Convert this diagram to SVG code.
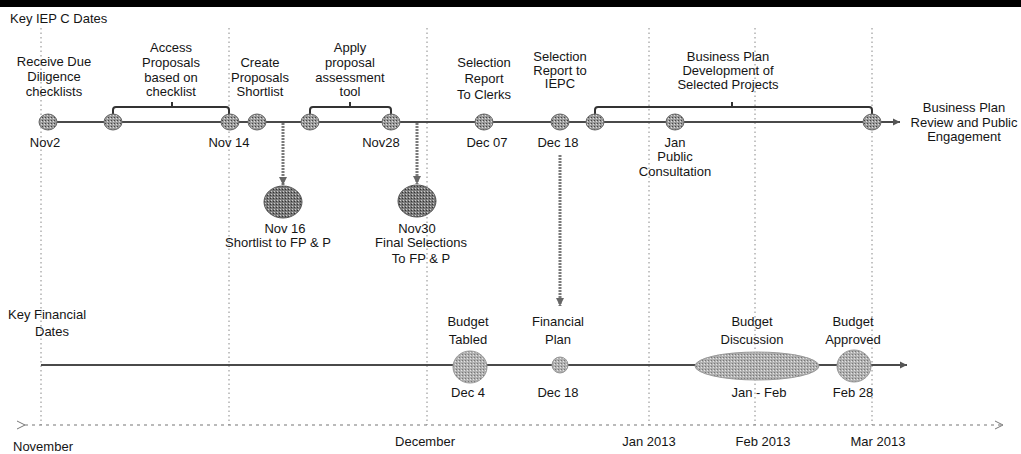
<svg xmlns="http://www.w3.org/2000/svg" width="1021" height="454" viewBox="0 0 1021 454">
<style>
text{font-family:"Liberation Sans",Arial,sans-serif;font-size:13px;fill:#151515}
.c{text-anchor:middle}
.vd{stroke:#888;stroke-width:1;stroke-dasharray:1.5 3;fill:none}
.tl{stroke:#4a4a4a;stroke-width:2;fill:none}
.br{stroke:#333;stroke-width:2;fill:none}
.va{stroke:#7a7a7a;stroke-width:3;fill:none;stroke-dasharray:2 1}
.ms{fill:url(#dots);stroke:#6a6a6a;stroke-width:1}
.big{fill:url(#dotsDark);stroke:#555;stroke-width:1}
.fin{fill:url(#dotsLight);stroke:#999;stroke-width:1}
.ax{stroke:#777;stroke-width:1.2;stroke-dasharray:3 4;fill:none}
</style>
<defs>
<pattern id="dots" width="3" height="3" patternUnits="userSpaceOnUse"><rect width="3" height="3" fill="#9a9a9a"/><rect width="1" height="1" fill="#444"/><rect x="2" y="1" width="1" height="1" fill="#ddd"/></pattern>
<pattern id="dotsDark" width="3" height="3" patternUnits="userSpaceOnUse"><rect width="3" height="3" fill="#7a7a7a"/><rect width="1" height="1" fill="#333"/><rect x="1" y="2" width="1" height="1" fill="#ccc"/></pattern>
<pattern id="dotsLight" width="3" height="3" patternUnits="userSpaceOnUse"><rect width="3" height="3" fill="#b0b0b0"/><rect width="1" height="1" fill="#777"/><rect x="2" y="1" width="1" height="1" fill="#e4e4e4"/></pattern>
<marker id="ah" markerWidth="8" markerHeight="8" refX="7" refY="4" orient="auto" markerUnits="userSpaceOnUse"><path d="M0,0.5 L7,4 L0,7.5 z" fill="#555"/></marker>
<marker id="ahv" markerWidth="10" markerHeight="10" refX="8" refY="5" orient="auto" markerUnits="userSpaceOnUse"><path d="M0,1 L8,5 L0,9 z" fill="#666"/></marker>
<marker id="open" markerWidth="10" markerHeight="10" refX="8" refY="5" orient="auto" markerUnits="userSpaceOnUse"><path d="M0,1 L8,5 L0,9" fill="none" stroke="#777" stroke-width="1"/></marker>
</defs>
<rect x="0" y="0" width="1021" height="454" fill="#fff"/>
<rect x="0" y="0" width="1021" height="7" fill="#000"/>

<g id="gridlines">
<line class="vd" x1="41" y1="28" x2="41" y2="425"/>
<line class="vd" x1="229" y1="28" x2="229" y2="425"/>
<line class="vd" x1="427" y1="28" x2="427" y2="425"/>
<line class="vd" x1="649" y1="28" x2="649" y2="425"/>
<line class="vd" x1="755" y1="28" x2="755" y2="425"/>
<line class="vd" x1="872" y1="28" x2="872" y2="425"/>
</g>

<g id="connectors">
<line class="tl" x1="41" y1="122" x2="900" y2="122" marker-end="url(#ah)"/>
<line class="tl" x1="41" y1="365" x2="907" y2="365" marker-end="url(#ah)"/>
<line class="va" x1="283" y1="123" x2="283" y2="185" marker-end="url(#ahv)"/>
<line class="va" x1="417" y1="123" x2="417" y2="184" marker-end="url(#ahv)"/>
<line class="va" x1="560" y1="155" x2="560" y2="306" marker-end="url(#ahv)"/>
<line class="ax" x1="25" y1="425" x2="1003" y2="425" marker-start="url(#open)" marker-end="url(#open)"/>
<path class="br" d="M113,115 V110 Q113,107 116,107 H226 Q229,107 229,110 V115 M172,107 V102"/>
<path class="br" d="M310,115 V110 Q310,107 313,107 H388 Q391,107 391,110 V115 M350,107 V102"/>
<path class="br" d="M595,115 V110 Q595,107 598,107 H869 Q872,107 872,110 V115 M732,107 V102"/>
</g>

<g id="titles">
<text x="10" y="23">Key IEP C Dates</text>
<text x="8" y="319">Key Financial</text>
<text x="35" y="336">Dates</text>
</g>

<g id="n-nov2">
<ellipse class="ms" cx="48" cy="122" rx="9" ry="8"/>
<text class="c" x="54" y="66">Receive Due</text>
<text class="c" x="54" y="81">Diligence</text>
<text class="c" x="54" y="96">checklists</text>
<text class="c" x="45" y="147">Nov2</text>
</g>
<g id="n-access">
<ellipse class="ms" cx="113" cy="122" rx="9" ry="8"/>
<text class="c" x="171" y="52">Access</text>
<text class="c" x="171" y="67">Proposals</text>
<text class="c" x="171" y="82">based on</text>
<text class="c" x="171" y="96">checklist</text>
</g>
<g id="n-nov14">
<ellipse class="ms" cx="230" cy="122" rx="9" ry="8"/>
<text class="c" x="229" y="147">Nov 14</text>
</g>
<g id="n-create">
<ellipse class="ms" cx="257" cy="122" rx="9" ry="8"/>
<text class="c" x="260" y="67">Create</text>
<text class="c" x="260" y="82">Proposals</text>
<text class="c" x="260" y="96">Shortlist</text>
</g>
<g id="n-apply">
<ellipse class="ms" cx="310" cy="122" rx="9" ry="8"/>
<text class="c" x="350" y="52">Apply</text>
<text class="c" x="350" y="67">proposal</text>
<text class="c" x="350" y="82">assessment</text>
<text class="c" x="350" y="96">tool</text>
</g>
<g id="n-nov28">
<ellipse class="ms" cx="391" cy="122" rx="9" ry="8"/>
<text class="c" x="381" y="147">Nov28</text>
</g>
<g id="n-dec07">
<ellipse class="ms" cx="484" cy="122" rx="9" ry="8"/>
<text class="c" x="484" y="67">Selection</text>
<text class="c" x="484" y="83">Report</text>
<text class="c" x="484" y="99">To Clerks</text>
<text class="c" x="487" y="147">Dec 07</text>
</g>
<g id="n-dec18">
<ellipse class="ms" cx="560" cy="122" rx="9" ry="8"/>
<text class="c" x="560" y="61">Selection</text>
<text class="c" x="560" y="75">Report to</text>
<text class="c" x="560" y="88">IEPC</text>
<text class="c" x="558" y="147">Dec 18</text>
</g>
<g id="n-bizdev">
<ellipse class="ms" cx="595" cy="122" rx="9" ry="8"/>
<text class="c" x="728" y="61">Business Plan</text>
<text class="c" x="728" y="75">Development of</text>
<text class="c" x="728" y="89">Selected Projects</text>
</g>
<g id="n-jan">
<ellipse class="ms" cx="675" cy="122" rx="9" ry="8"/>
<text class="c" x="675" y="147">Jan</text>
<text class="c" x="675" y="161">Public</text>
<text class="c" x="675" y="176">Consultation</text>
</g>
<g id="n-mar">
<ellipse class="ms" cx="872" cy="122" rx="9" ry="8"/>
</g>
<g id="n-review">
<text class="c" x="964" y="112">Business Plan</text>
<text class="c" x="964" y="127">Review and Public</text>
<text class="c" x="964" y="141">Engagement</text>
</g>
<g id="n-nov16">
<ellipse class="big" cx="283" cy="202" rx="19" ry="16"/>
<text class="c" x="285" y="233">Nov 16</text>
<text class="c" x="278" y="247">Shortlist to FP &amp; P</text>
</g>
<g id="n-nov30">
<ellipse class="big" cx="417" cy="201" rx="19" ry="16"/>
<text class="c" x="417" y="233">Nov30</text>
<text class="c" x="421" y="247">Final Selections</text>
<text class="c" x="421" y="263">To FP &amp; P</text>
</g>

<g id="f-dec4">
<ellipse class="fin" cx="470" cy="367" rx="17" ry="16"/>
<text class="c" x="468" y="326">Budget</text>
<text class="c" x="468" y="344">Tabled</text>
<text class="c" x="468" y="397">Dec 4</text>
</g>
<g id="f-dec18">
<ellipse class="fin" cx="560" cy="365" rx="8" ry="8"/>
<text class="c" x="558" y="326">Financial</text>
<text class="c" x="558" y="344">Plan</text>
<text class="c" x="558" y="397">Dec 18</text>
</g>
<g id="f-janfeb">
<ellipse class="fin" cx="757" cy="366" rx="62" ry="14"/>
<text class="c" x="752" y="326">Budget</text>
<text class="c" x="752" y="344">Discussion</text>
<text class="c" x="759" y="397">Jan - Feb</text>
</g>
<g id="f-feb28">
<ellipse class="fin" cx="854" cy="366" rx="17" ry="16"/>
<text class="c" x="853" y="326">Budget</text>
<text class="c" x="853" y="344">Approved</text>
<text class="c" x="853" y="397">Feb 28</text>
</g>

<g id="axis-labels">
<text x="13" y="451">November</text>
<text class="c" x="425" y="446">December</text>
<text class="c" x="649" y="446">Jan 2013</text>
<text class="c" x="763" y="446">Feb 2013</text>
<text class="c" x="878" y="446">Mar 2013</text>
</g>
</svg>
